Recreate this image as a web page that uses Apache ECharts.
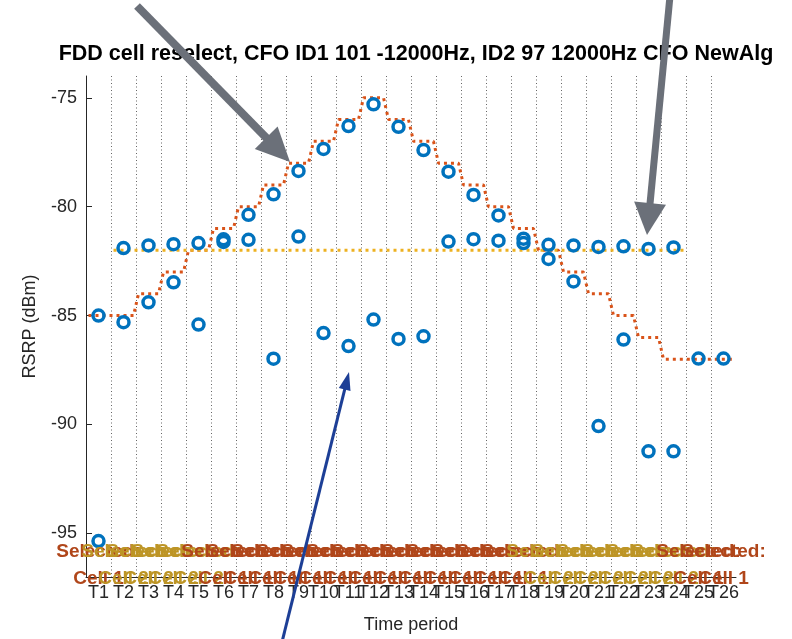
<!DOCTYPE html>
<html>
<head>
<meta charset="utf-8">
<script src="https://cdn.jsdelivr.net/npm/echarts@6/dist/echarts.min.js"></script>
<style>html,body{margin:0;padding:0;background:#fff}#c{width:792px;height:639px}</style>
</head>
<body>
<div id="c"></div>
<script>
const periods = ['T1','T2','T3','T4','T5','T6','T7','T8','T9','T10','T11','T12','T13','T14','T15','T16','T17','T18','T19','T20','T21','T22','T23','T24','T25','T26'];
const yTicks = [-95, -90, -85, -80, -75];
// measured RSRP (blue circles)
const rsrpA = [-85.0, -85.3, -84.39, -83.47, -85.41, -81.5, -80.37, -79.43, -78.36, -77.35, -76.3, -75.3, -76.33, -77.4, -78.39, -79.46, -80.4, -81.47, -82.4, -83.43, -90.07, -86.1, -91.23, -91.23, -86.97, -86.97];
const rsrpB = [-95.35, -81.9, -81.78, -81.72, -81.67, -81.62, -81.52, -86.98, -81.37, -85.8, -86.4, -85.18, -86.07, -85.95, -81.6, -81.49, -81.56, -81.67, -81.75, -81.78, -81.85, -81.82, -81.94, -81.87, null, null];
// configured cell levels (dotted lines)
const cell1Level = [-85, -85, -84, -83, -82, -81, -80, -79, -78, -77, -76, -75, -76, -77, -78, -79, -80, -81, -82, -83, -84, -85, -86, -87, -87, -87];
const cell2Level = -82;
const cell2First = 2, cell2Last = 24;
// selected cell at each period
const selectedCell = [1,2,2,2,2,1,1,1,1,1,1,1,1,1,1,1,1,1,2,2,2,2,2,2,1,1];
const selLabelY = -96.45;

const selColors = {1: '#B0461A', 2: '#BD9526'};
const font = 'Liberation Sans, Arial, sans-serif';
const half = 0.4;

const stairs = [];
cell1Level.forEach((v, i) => { stairs.push([i + 1 - half, v]); stairs.push([i + 1 + half, v]); });
const cell2Line = [[cell2First - half, cell2Level], [cell2Last + half, cell2Level]];

function arrow(tail, tip, w, hl, hw, color) {
  const dx = tip[0] - tail[0], dy = tip[1] - tail[1];
  const L = Math.hypot(dx, dy), ux = dx / L, uy = dy / L;
  const bx = tip[0] - ux * hl, by = tip[1] - uy * hl;
  const px = -uy, py = ux;
  return [
    {type: 'line', z: 100, shape: {x1: tail[0], y1: tail[1], x2: bx + ux * 2, y2: by + uy * 2}, style: {stroke: color, lineWidth: w}},
    {type: 'polygon', z: 100, shape: {points: [[tip[0], tip[1]], [bx + px * hw, by + py * hw], [bx - px * hw, by - py * hw]]}, style: {fill: color}}
  ];
}

const circleStyle = {color: 'rgba(0,0,0,0)', borderColor: '#0072BD', borderWidth: 3.5, opacity: 1};

const chart = echarts.init(document.getElementById('c'), null, {renderer: 'canvas'});
chart.setOption({
  animation: false,
  backgroundColor: '#fff',
  title: {
    text: 'FDD cell reselect, CFO ID1 101 -12000Hz, ID2 97 12000Hz CFO NewAlg',
    left: 411, textAlign: 'center', top: 38,
    textStyle: {fontFamily: font, fontWeight: 'bold', fontSize: 21.5, color: '#000'}
  },
  grid: {left: 86, right: 56, top: 76, bottom: 62, containLabel: false},
  xAxis: [{
    type: 'category', data: periods, boundaryGap: true,
    name: 'Time period', nameLocation: 'middle', nameGap: 39,
    nameTextStyle: {fontFamily: font, fontSize: 18, color: '#262626'},
    axisLine: {lineStyle: {color: '#262626', width: 1}},
    axisTick: {show: false},
    axisLabel: {interval: 0, margin: 7, fontFamily: font, fontSize: 18, color: '#262626'},
    splitLine: {show: true, showMinLine: false, showMaxLine: false, lineStyle: {color: '#666', type: [1, 2.5], width: 1}}
  }, {
    type: 'value', min: 0.5, max: 26.5, show: false
  }],
  yAxis: {
    type: 'value', min: -97, max: -74, interval: 5,
    name: 'RSRP (dBm)', nameLocation: 'middle', nameGap: 47,
    nameTextStyle: {fontFamily: font, fontSize: 18, color: '#262626'},
    axisLine: {show: true, lineStyle: {color: '#262626', width: 1}},
    axisTick: {show: true, inside: true, length: 6, lineStyle: {color: '#262626'}, customValues: yTicks},
    axisLabel: {margin: 9, fontFamily: font, fontSize: 18, color: '#262626', customValues: yTicks},
    splitLine: {show: false}
  },
  series: [
    {type: 'line', xAxisIndex: 1, data: stairs, symbol: 'none', z: 2,
     lineStyle: {color: '#D95319', width: 3, type: [3, 4]}},
    {type: 'line', xAxisIndex: 1, data: cell2Line, symbol: 'none', z: 2,
     lineStyle: {color: '#EDB120', width: 3, type: [3, 4]}},
    {type: 'scatter', xAxisIndex: 0, data: rsrpA, symbol: 'circle', symbolSize: 11, z: 3, itemStyle: circleStyle},
    {type: 'scatter', xAxisIndex: 0, data: rsrpB, symbol: 'circle', symbolSize: 11, z: 3, itemStyle: circleStyle},
    {type: 'scatter', xAxisIndex: 0, symbolSize: 1, z: 4, silent: true,
     itemStyle: {color: 'rgba(0,0,0,0)', opacity: 1},
     data: selectedCell.map((c) => ({value: selLabelY, label: {color: selColors[c]}})),
     label: {show: true, position: 'inside', fontFamily: font, fontWeight: 'bold', fontSize: 19, lineHeight: 27,
       formatter: (p) => 'Selected:\nCell ' + selectedCell[p.dataIndex]},
     labelLayout: {hideOverlap: false}
    }
  ],
  graphic: [].concat(
    arrow([137, 6], [290, 162], 8, 34, 16, '#6B7079'),
    arrow([670, -4], [647, 235], 7, 32, 16, '#6B7079'),
    arrow([282, 642], [349, 372], 3, 18, 6, '#1D3F96')
  )
});
</script>
</body>
</html>
